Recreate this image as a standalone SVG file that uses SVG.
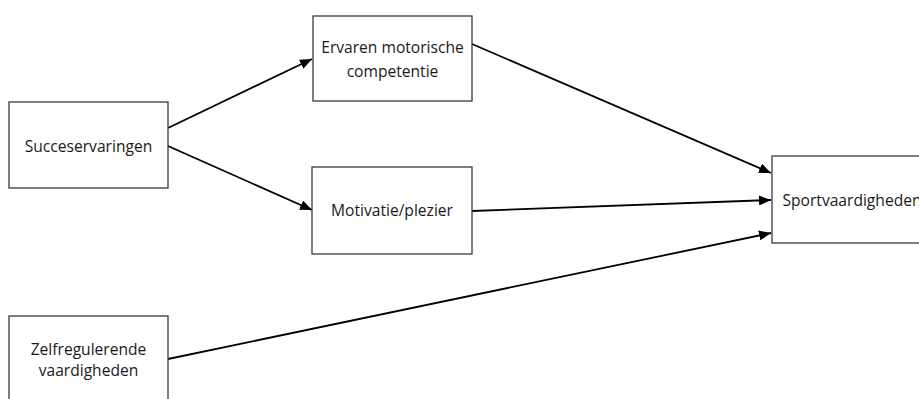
<svg xmlns="http://www.w3.org/2000/svg" width="919" height="399" viewBox="0 0 919 399">
<style>
.box{fill:#fff;stroke:#3a3a3a;stroke-width:1.3}
.lbl{font-family:"Open Sans","Liberation Sans",sans-serif;font-size:15.6px;fill:#1a1a1a;text-anchor:middle}
.edge{stroke:#000;stroke-width:1.8;fill:none;marker-end:url(#ah)}
</style>
<defs>
<marker id="ah" markerWidth="12" markerHeight="10" refX="12" refY="5" orient="auto" markerUnits="userSpaceOnUse">
<path d="M0,0 L12,5 L0,10 Z" fill="#000"/>
</marker>
</defs>
<rect width="919" height="399" fill="#fff"/>
<g id="edges">
<line class="edge" x1="168" y1="128" x2="312" y2="59"/>
<line class="edge" x1="168" y1="146" x2="312" y2="210"/>
<line class="edge" x1="472" y1="44" x2="771" y2="173"/>
<line class="edge" x1="472" y1="211" x2="771" y2="200"/>
<line class="edge" x1="168" y1="359" x2="771" y2="233"/>
</g>
<g id="succes">
<rect class="box" x="9" y="102" width="159" height="86"/>
<text class="lbl" x="88.5" y="152">Succeservaringen</text>
</g>
<g id="ervaren">
<rect class="box" x="313" y="16" width="159" height="85"/>
<text class="lbl" x="392.5" y="53">Ervaren motorische</text>
<text class="lbl" x="392.5" y="77">competentie</text>
</g>
<g id="motivatie">
<rect class="box" x="312" y="167" width="160" height="87"/>
<text class="lbl" x="392" y="216">Motivatie/plezier</text>
</g>
<g id="sport">
<rect class="box" x="772" y="156" width="160" height="87"/>
<text class="lbl" x="852" y="206">Sportvaardigheden</text>
</g>
<g id="zelf">
<rect class="box" x="9" y="316" width="159" height="100"/>
<text class="lbl" x="88.5" y="355">Zelfregulerende</text>
<text class="lbl" x="88.5" y="376">vaardigheden</text>
</g>
</svg>
